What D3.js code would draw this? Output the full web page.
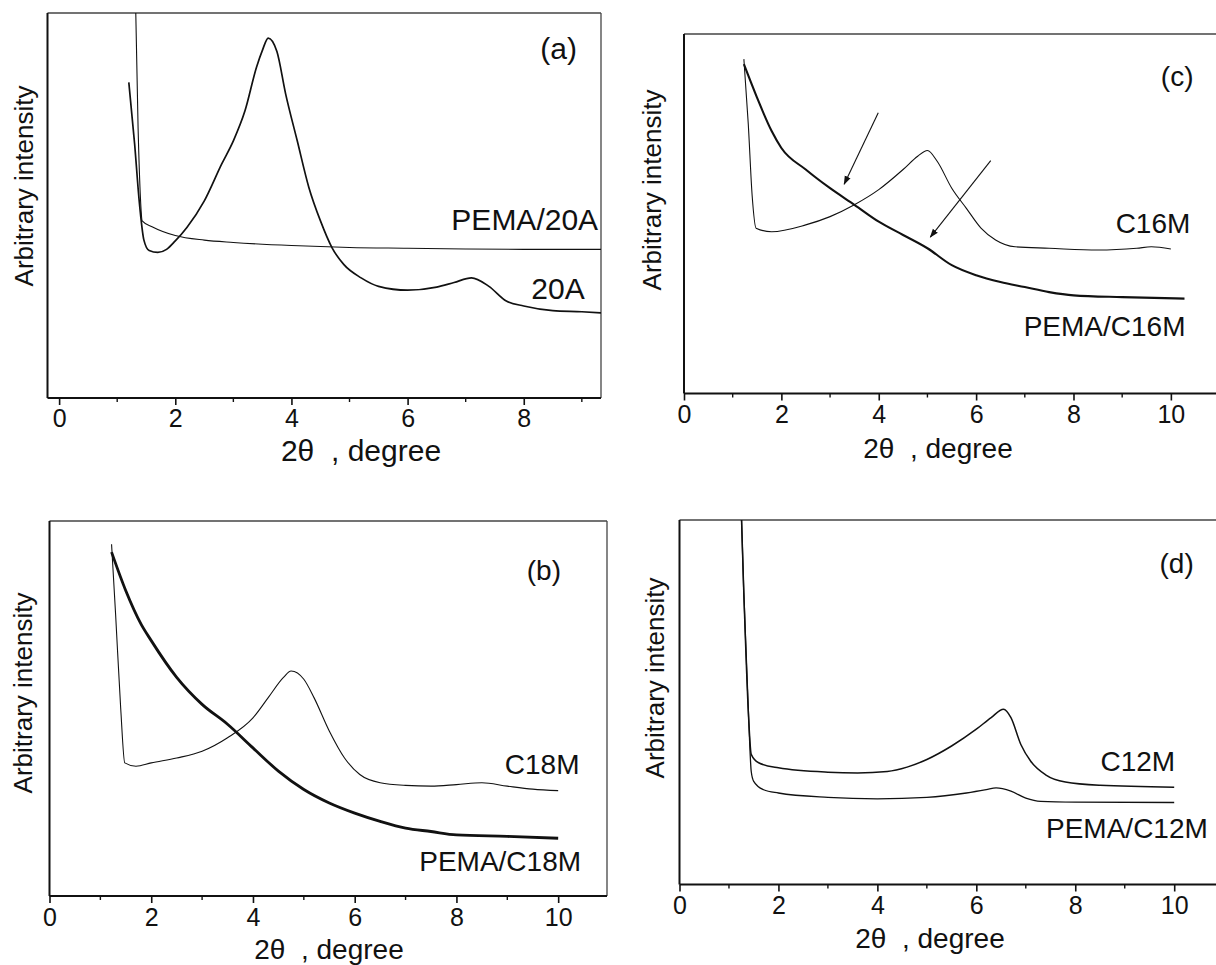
<!DOCTYPE html>
<html>
<head>
<meta charset="utf-8">
<script src="https://cdn.jsdelivr.net/npm/d3@7"></script>
<style>
  html, body { margin: 0; padding: 0; background: #fff; }
  svg text { font-family: "Liberation Sans", Arial, sans-serif; fill: #111; white-space: pre; }
</style>
</head>
<body>
<svg id="chart" width="1216" height="965"></svg>
<script>
// ---------- data (y = % of plot height) ----------
const xTicks10 = [0, 2, 4, 6, 8, 10];
const xTicks8 = [0, 2, 4, 6, 8];
const panelLetters = ["(a)", "(b)", "(c)", "(d)"];
const yAxisLabel = "Arbitrary intensity";
const xAxisLabel = "2\u03B8  , degree";

// (a)
const aPEMA20A = [[1.30,115],[1.36,70],[1.40,52],[1.43,46],[1.6,44.5],[2.0,42.2],[2.5,41],[3.0,40.4],[4.0,39.6],[5.0,39.1],[6.0,38.9],[7.0,38.7],[8.0,38.6],[9.33,38.6]];
const a20A = [[1.20,82],[1.30,66],[1.38,51],[1.46,41],[1.55,38.3],[1.7,37.8],[1.85,38.6],[2.0,40.8],[2.2,44.3],[2.5,51.2],[2.8,60.8],[3.0,66.8],[3.2,74.6],[3.4,86],[3.5,90.3],[3.6,93.5],[3.75,90],[3.9,79],[4.1,66.8],[4.3,54.7],[4.5,46],[4.7,39],[4.9,34.7],[5.2,31.2],[5.5,29],[6.0,28],[6.5,28.8],[6.8,30],[7.1,31.2],[7.4,29],[7.7,25.2],[8.0,23.9],[8.5,22.7],[9.0,22.4],[9.33,22.1]];
// (b)
const bC18M = [[1.22,93.8],[1.30,75],[1.40,50],[1.48,35.5],[1.7,34.6],[2.0,35.5],[2.5,36.8],[3.0,38.6],[3.5,42.2],[4.0,47.5],[4.3,52.9],[4.6,58.3],[4.75,60],[5.0,57.8],[5.2,52.9],[5.5,44],[5.8,36.8],[6.1,32.4],[6.5,30.2],[7.0,29.5],[7.5,29.3],[8.0,29.7],[8.5,30.2],[9.0,29.3],[9.5,28.5],[10.0,28.1]];
const bPEMAC18M = [[1.22,91.7],[1.5,81.4],[1.8,72.5],[2.0,68.1],[2.5,58.3],[3.0,51.1],[3.5,45.8],[4.0,39.5],[4.5,33.3],[5.0,28.4],[5.5,24.8],[6.0,22.1],[6.5,19.9],[7.0,18.1],[7.5,17.2],[8.0,16.3],[9.0,15.9],[10.0,15.4]];
// (c)
const cC16M = [[1.23,93],[1.32,75],[1.40,55],[1.48,46],[1.8,45],[2.5,46.9],[3.0,49.2],[3.5,52.5],[4.0,56.7],[4.5,62.3],[4.8,66],[5.0,67.6],[5.2,64.6],[5.5,57.1],[5.8,51.5],[6.1,46],[6.4,42.7],[6.8,40.8],[7.5,40.4],[8.5,39.9],[9.3,40.4],[9.6,40.8],[10.0,40.2]];
const cPEMAC16M = [[1.23,91.6],[1.5,82.3],[1.8,73],[2.0,68.3],[2.5,62.3],[3.0,57.1],[3.5,52.5],[4.0,47.8],[4.5,44.1],[5.0,40.4],[5.5,35.7],[6.0,32.9],[6.5,31],[7.0,29.6],[7.5,28.2],[8.0,27.3],[9.0,26.8],[10.28,26.4]];
const cArrows = [[[3.99,78.1],[3.29,58.2]], [[6.30,64.8],[5.06,43.5]]];
// (d)
const dC12M = [[1.22,115],[1.30,80],[1.40,45],[1.45,35.7],[1.6,33.4],[2.0,32],[3.0,30.8],[3.6,30.6],[4.2,31.0],[4.6,32.2],[5.0,34.3],[5.5,38],[6.0,42.6],[6.3,45.8],[6.55,48.1],[6.7,45.8],[6.9,38.4],[7.1,33.8],[7.4,30.1],[7.8,28.1],[8.5,27.2],[10.0,26.7]];
const dPEMAC12M = [[1.22,115],[1.30,80],[1.40,45],[1.45,31],[1.5,28.3],[1.7,26],[2.0,25.1],[3.0,23.9],[4.0,23.5],[5.0,23.9],[5.8,25.1],[6.2,26],[6.4,26.5],[6.7,25.6],[7.0,23.7],[7.3,22.8],[8.0,22.6],[10.0,22.5]];

// ---------- layout ----------
const panels = [
  { id: "a", letter: panelLetters[0], x0: 47.5, x1: 601, y0: 398, y1: 13, dom: [-0.2, 9.33], ticks: xTicks8, minorMax: 9, rightFrame: true, fs: 30, pad: 4,
    series: [{d: aPEMA20A, w: 1.1}, {d: a20A, w: 1.7}],
    labels: [{t: "PEMA/20A", x: 9.28, y: 46.4}, {t: "20A", x: 9.05, y: 28.5}],
    letterPos: [8.6, 90.7], ylab: [24, 186], xlab: [361, 461] },
  { id: "b", letter: panelLetters[1], x0: 49.5, x1: 607, y0: 896, y1: 521, dom: [0, 10.96], ticks: xTicks10, minorMax: 10, rightFrame: true, fs: 28, pad: 5,
    series: [{d: bC18M, w: 1.1}, {d: bPEMAC18M, w: 2.8}],
    labels: [{t: "C18M", x: 10.42, y: 35}, {t: "PEMA/C18M", x: 10.45, y: 9.2}],
    letterPos: [9.72, 86.8], ylab: [23, 693], xlab: [329, 959] },
  { id: "c", letter: panelLetters[2], x0: 684, x1: 1240, y0: 393.5, y1: 34, dom: [0, 11.42], ticks: xTicks10, minorMax: 10, rightFrame: false, fs: 28, pad: 5,
    series: [{d: cC16M, w: 1.1}, {d: cPEMAC16M, w: 2.1}],
    labels: [{t: "C16M", x: 10.4, y: 47.3}, {t: "PEMA/C16M", x: 10.3, y: 18.5}],
    letterPos: [10.13, 88.3], ylab: [652, 190], xlab: [938, 458], arrows: cArrows },
  { id: "d", letter: panelLetters[3], x0: 679.5, x1: 1240, y0: 884.5, y1: 520, dom: [0, 11.33], ticks: xTicks10, minorMax: 10, rightFrame: false, fs: 28, pad: 5,
    series: [{d: dC12M, w: 1.5}, {d: dPEMAC12M, w: 1.3}],
    labels: [{t: "C12M", x: 10.02, y: 33.8}, {t: "PEMA/C12M", x: 10.68, y: 15.4}],
    letterPos: [10.05, 88.2], ylab: [655, 678], xlab: [930, 948] }
];

const svg = d3.select("#chart");
svg.append("defs").append("marker")
  .attr("id", "arrow").attr("viewBox", "0 0 10 10").attr("refX", 9).attr("refY", 5)
  .attr("markerWidth", 9).attr("markerHeight", 9).attr("orient", "auto-start-reverse")
  .attr("markerUnits", "userSpaceOnUse")
  .append("path").attr("d", "M0,1.5 L10,5 L0,8.5 Z").attr("fill", "#111");

panels.forEach(p => {
  const x = d3.scaleLinear().domain(p.dom).range([p.x0, p.x1]);
  const y = d3.scaleLinear().domain([0, 100]).range([p.y0, p.y1]);
  const g = svg.append("g");
  const clipId = "clip-" + p.id;
  g.append("clipPath").attr("id", clipId).append("rect")
    .attr("x", p.x0).attr("y", p.y1).attr("width", p.x1 - p.x0).attr("height", p.y0 - p.y1);

  // frame
  g.append("line").attr("x1", p.x0).attr("x2", p.x1).attr("y1", p.y1).attr("y2", p.y1)
    .attr("stroke", "#444").attr("stroke-width", 1.3);
  if (p.rightFrame) g.append("line").attr("x1", p.x1).attr("x2", p.x1).attr("y1", p.y1).attr("y2", p.y0)
    .attr("stroke", "#444").attr("stroke-width", 1.3);
  g.append("line").attr("x1", p.x0).attr("x2", p.x0).attr("y1", p.y1).attr("y2", p.y0)
    .attr("stroke", "#111").attr("stroke-width", 2);

  // x axis
  const ax = g.append("g").attr("transform", `translate(0,${p.y0})`)
    .call(d3.axisBottom(x).tickValues(p.ticks).tickSize(7).tickPadding(p.pad).tickSizeOuter(0));
  ax.select(".domain").attr("stroke", "#111").attr("stroke-width", 2).attr("d", `M${p.x0},0H${p.x1}`);
  ax.selectAll(".tick line").attr("stroke", "#111").attr("stroke-width", 1.6);
  ax.selectAll(".tick text").attr("font-size", 25).attr("fill", "#111")
    .attr("font-family", "Liberation Sans, Arial, sans-serif");
  const minors = d3.range(1, p.minorMax + 1, 2);
  g.selectAll(".minor").data(minors).join("line")
    .attr("x1", d => x(d)).attr("x2", d => x(d)).attr("y1", p.y0).attr("y2", p.y0 + 4)
    .attr("stroke", "#111").attr("stroke-width", 1.4);

  // axis titles
  g.append("text").attr("x", p.xlab[0]).attr("y", p.xlab[1])
    .attr("text-anchor", "middle").attr("font-size", p.fs).text(xAxisLabel);
  g.append("text").attr("transform", `translate(${p.ylab[0]},${p.ylab[1]}) rotate(-90)`)
    .attr("text-anchor", "middle").attr("dominant-baseline", "central")
    .attr("font-size", 26).text(yAxisLabel);

  // series
  const line = d3.line().x(d => x(d[0])).y(d => y(d[1])).curve(d3.curveMonotoneX);
  p.series.forEach(s => {
    g.append("path").datum(s.d).attr("d", line).attr("fill", "none")
      .attr("stroke", "#111").attr("stroke-width", s.w).attr("stroke-linejoin", "round")
      .attr("clip-path", `url(#${clipId})`);
  });

  // labels
  p.labels.forEach(l => {
    g.append("text").attr("x", x(l.x)).attr("y", y(l.y)).attr("text-anchor", "end")
      .attr("dominant-baseline", "central").attr("font-size", p.fs).text(l.t);
  });
  g.append("text").attr("x", x(p.letterPos[0])).attr("y", y(p.letterPos[1]))
    .attr("text-anchor", "middle").attr("dominant-baseline", "central").attr("font-size", p.fs).text(p.letter);

  if (p.arrows) {
    p.arrows.forEach(a => {
      g.append("line").attr("x1", x(a[0][0])).attr("y1", y(a[0][1]))
        .attr("x2", x(a[1][0])).attr("y2", y(a[1][1]))
        .attr("stroke", "#111").attr("stroke-width", 1.1).attr("marker-end", "url(#arrow)");
    });
  }
});
</script>
</body>
</html>
